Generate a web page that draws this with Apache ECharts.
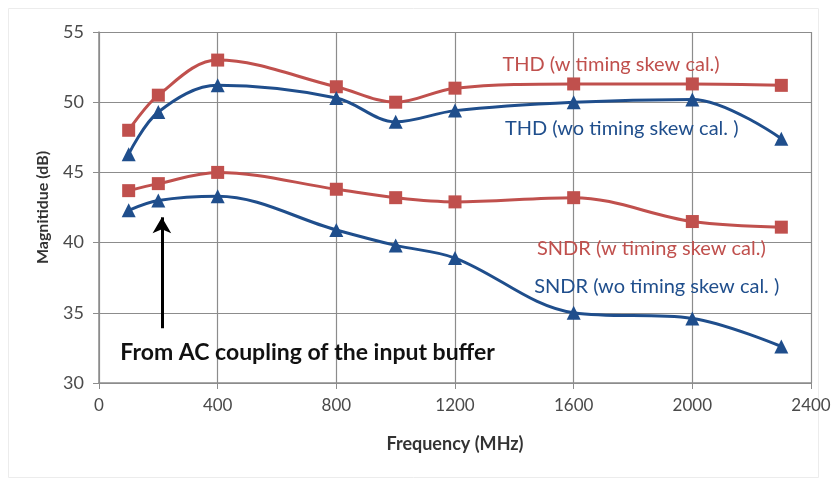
<!DOCTYPE html>
<html>
<head>
<meta charset="utf-8">
<script src="https://cdn.jsdelivr.net/npm/echarts@6/dist/echarts.min.js"></script>
<style>
  html, body { margin: 0; padding: 0; background: #fff; }
  #chart { width: 838px; height: 479px; }
</style>
</head>
<body>
<div id="chart"></div>
<script>
// Measurement frequencies (MHz)
const freqs = [100, 200, 400, 800, 1000, 1200, 1600, 2000, 2300];

// Magnitude (dB) per series
const thdWithCal    = [48.0, 50.5, 53.0, 51.1, 50.0, 51.0, 51.3, 51.3, 51.2];
const thdWithoutCal = [46.3, 49.3, 51.2, 50.3, 48.6, 49.4, 50.0, 50.2, 47.4];
const sndrWithCal   = [43.7, 44.2, 45.0, 43.8, 43.2, 42.9, 43.2, 41.5, 41.1];
const sndrWithoutCal= [42.3, 43.0, 43.3, 40.9, 39.8, 38.9, 35.0, 34.6, 32.6];

// Series names, drawn next to their curves: [text, freq, dB, colour]
const seriesLabels = [
  ['THD (w timing skew cal.)',    1726, 52.65, '#C0504D'],
  ['THD (wo timing skew cal. )',  1762, 48.15, '#1F4E8C'],
  ['SNDR (w timing skew cal.)',   1862, 39.6,  '#C0504D'],
  ['SNDR (wo timing skew cal. )', 1880, 36.85, '#1F4E8C']
];

// Note with an arrow pointing at the 200 MHz dip
const noteText = 'From AC coupling of the input buffer';
const notePos = [72, 32.2];
const arrowFrom = [212, 33.9];
const arrowTo = [212, 41.8];

const RED = '#C0504D';
const BLUE = '#1F4E8C';
const FONT = 'Lato, "Open Sans", sans-serif';

const pair = (xs, ys) => xs.map((x, i) => [x, ys[i]]);

function lineSeries(name, values, color, symbol) {
  return {
    name,
    type: 'line',
    data: pair(freqs, values),
    smooth: 0.35,
    symbol,
    symbolSize: symbol === 'rect' ? 13 : 14,
    lineStyle: { color, width: 3 },
    itemStyle: { color },
    z: 3
  };
}

const chart = echarts.init(document.getElementById('chart'), null, { renderer: 'canvas' });

chart.setOption({
  animation: false,
  backgroundColor: '#fff',
  grid: { left: 99, top: 32, right: 27, bottom: 96 },
  xAxis: {
    type: 'value',
    min: 0, max: 2400, interval: 400,
    name: 'Frequency (MHz)',
    nameLocation: 'middle',
    nameGap: 52,
    nameTextStyle: { fontFamily: FONT, fontWeight: 'bold', fontSize: 18, color: '#333' },
    axisLine: { show: true, lineStyle: { color: '#8c8c8c', width: 1.5 } },
    axisTick: { show: true, length: 6, lineStyle: { color: '#8c8c8c' } },
    axisLabel: { fontFamily: FONT, fontSize: 17, color: '#4a4a4a', margin: 14, formatter: v => String(v) },
    splitLine: { show: true, lineStyle: { color: '#8c8c8c', width: 1.2 } }
  },
  yAxis: {
    type: 'value',
    min: 30, max: 55, interval: 5,
    name: 'Magnitidue (dB)',
    nameLocation: 'middle',
    nameGap: 48,
    nameRotate: 90,
    nameTextStyle: { fontFamily: FONT, fontWeight: 'bold', fontSize: 16, color: '#333' },
    axisLine: { show: true, lineStyle: { color: '#8c8c8c', width: 1.5 } },
    axisTick: { show: true, length: 6, lineStyle: { color: '#8c8c8c' } },
    axisLabel: { fontFamily: FONT, fontSize: 18, color: '#4a4a4a', margin: 15 },
    splitLine: { show: true, lineStyle: { color: '#8c8c8c', width: 1.2 } }
  },
  series: [
    lineSeries('THD (w timing skew cal.)', thdWithCal, RED, 'rect'),
    lineSeries('THD (wo timing skew cal. )', thdWithoutCal, BLUE, 'triangle'),
    lineSeries('SNDR (w timing skew cal.)', sndrWithCal, RED, 'rect'),
    lineSeries('SNDR (wo timing skew cal. )', sndrWithoutCal, BLUE, 'triangle'),
    {
      name: 'note-arrow',
      type: 'line',
      data: [],
      silent: true,
      markLine: {
        silent: true,
        symbol: ['none', 'arrow'],
        symbolSize: [14, 16],
        label: { show: false },
        lineStyle: { color: '#000', width: 3, type: 'solid' },
        data: [[{ coord: arrowFrom }, { coord: arrowTo }]]
      }
    }
  ]
});

// Place the text annotations in data space
const graphics = [
  {
    type: 'rect',
    shape: { x: 8.5, y: 8.5, width: 810, height: 469 },
    style: { fill: 'none', stroke: '#ececec', lineWidth: 1 },
    silent: true,
    z: -1
  }
];
seriesLabels.forEach(([text, fx, fy, color]) => {
  const [px, py] = chart.convertToPixel({ gridIndex: 0 }, [fx, fy]);
  graphics.push({
    type: 'text',
    x: px, y: py,
    style: {
      text, fill: color,
      font: '20px ' + FONT,
      align: 'center', verticalAlign: 'middle'
    },
    z: 10
  });
});
const [nx, ny] = chart.convertToPixel({ gridIndex: 0 }, notePos);
graphics.push({
  type: 'text',
  x: nx, y: ny,
  style: {
    text: noteText, fill: '#111',
    font: 'bold 23px ' + FONT,
    align: 'left', verticalAlign: 'middle'
  },
  z: 10
});
chart.setOption({ graphic: graphics });
</script>
</body>
</html>
